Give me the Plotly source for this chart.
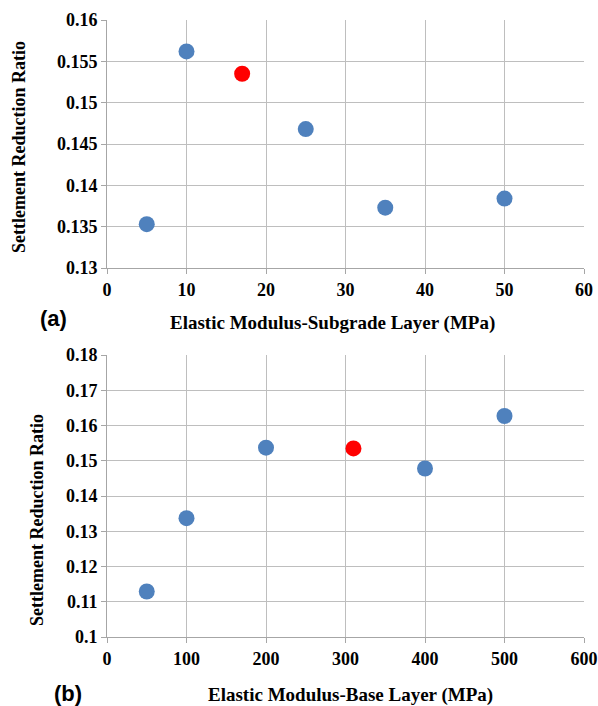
import plotly.graph_objects as go

# Panel (a)
sub_x = [5, 10, 25, 35, 50]
sub_y = [0.1353, 0.1562, 0.1468, 0.1373, 0.1384]
sub_red_x = [17]
sub_red_y = [0.1535]
# Panel (b)
base_x = [50, 100, 200, 400, 500]
base_y = [0.1129, 0.1337, 0.1537, 0.1478, 0.1627]
base_red_x = [310]
base_red_y = [0.1535]

W, H = 598, 706
BLUE = "#4F81BD"
RED = "#FF0000"
GRID = "#BEBEBE"
serif = "Liberation Serif, Times New Roman, serif"

def py(p):
    return 1 - p / H

def px(p):
    return p / W

fig = go.Figure()
mk = dict(size=16, line=dict(width=0))
fig.add_trace(go.Scatter(x=sub_x, y=sub_y, mode="markers", marker=dict(color=BLUE, **mk), xaxis="x", yaxis="y"))
fig.add_trace(go.Scatter(x=sub_red_x, y=sub_red_y, mode="markers", marker=dict(color=RED, **mk), xaxis="x", yaxis="y"))
fig.add_trace(go.Scatter(x=base_x, y=base_y, mode="markers", marker=dict(color=BLUE, **mk), xaxis="x2", yaxis="y2"))
fig.add_trace(go.Scatter(x=base_red_x, y=base_red_y, mode="markers", marker=dict(color=RED, **mk), xaxis="x2", yaxis="y2"))

tickfont = dict(family=serif, size=18, color="black", weight="bold")
axcommon = dict(showgrid=True, gridcolor=GRID, gridwidth=1, showline=True, linecolor="#A6A6A6",
                linewidth=1, ticks="outside", ticklen=5, tickcolor="#A6A6A6", tickfont=tickfont,
                zeroline=False, mirror=False, automargin=False)

xd = [px(107), px(584)]
fig.update_layout(
    width=W, height=H, margin=dict(l=0, r=0, t=0, b=0, autoexpand=False),
    paper_bgcolor="white", plot_bgcolor="white", showlegend=False,
    xaxis=dict(domain=xd, range=[0, 60], dtick=10, anchor="y", **axcommon),
    yaxis=dict(domain=[py(268), py(20)], range=[0.13, 0.16], dtick=0.005, anchor="x",
               tickformat="~g", **axcommon),
    xaxis2=dict(domain=xd, range=[0, 600], dtick=100, anchor="y2", **axcommon),
    yaxis2=dict(domain=[py(637), py(355)], range=[0.1, 0.18], dtick=0.01, anchor="x2",
                tickformat="~g", **axcommon),
)

titlefont = dict(family=serif, size=18, color="black", weight="bold")
xtitlefont = dict(family=serif, size=19, color="black", weight="bold")
ann = [
    dict(text="Elastic Modulus-Subgrade Layer (MPa)", x=px(332), y=py(323), font=xtitlefont),
    dict(text="Elastic Modulus-Base Layer (MPa)", x=px(350), y=py(695), font=xtitlefont),
    dict(text="Settlement Reduction Ratio", x=px(19), y=py(147), textangle=-90, font=titlefont),
    dict(text="Settlement Reduction Ratio", x=px(37), y=py(520), textangle=-90, font=titlefont),
    dict(text="(a)", x=px(53), y=py(319), font=dict(family="Liberation Sans", size=22, color="black", weight="bold")),
    dict(text="(b)", x=px(68), y=py(693), font=dict(family="Liberation Sans", size=22, color="black", weight="bold")),
]
for a in ann:
    fig.add_annotation(xref="paper", yref="paper", showarrow=False, xanchor="center", yanchor="middle", **a)

fig.write_html("out.html", config={"displayModeBar": False, "staticPlot": True},
               post_script="document.body.style.margin='0';document.body.style.padding='0';document.body.style.overflow='hidden';")
